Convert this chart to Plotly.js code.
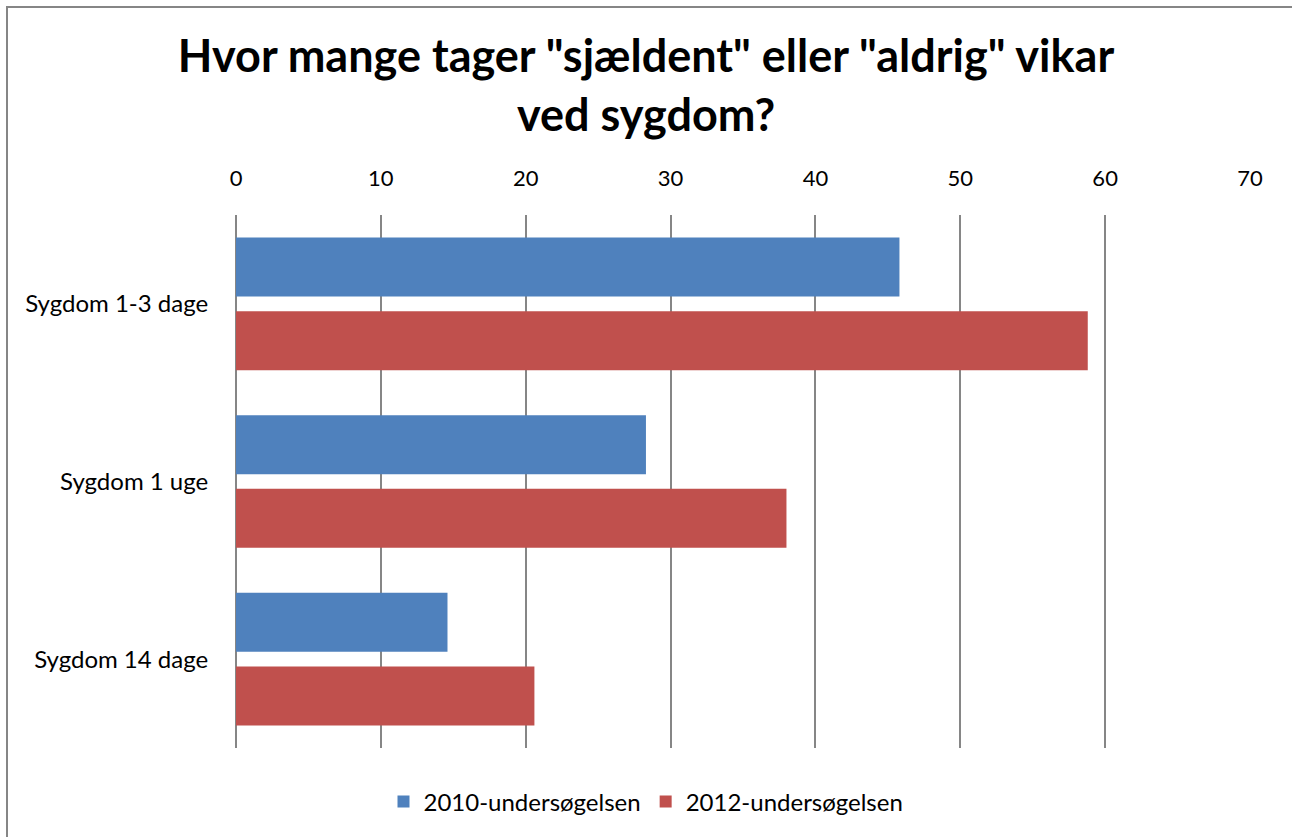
<!DOCTYPE html>
<html>
<head>
<meta charset="utf-8">
<script src="https://cdn.plot.ly/plotly-3.0.1.min.js"></script>
<style>
  html, body { margin: 0; padding: 0; background: #ffffff; overflow: hidden; }
  #frame { position: absolute; left: 6px; top: 6px; width: 1400px; height: 1000px; border: 2px solid #868686; box-sizing: border-box; }
  #chart { position: absolute; left: 0; top: 0; width: 1292px; height: 837px; }
</style>
</head>
<body>
<div id="frame"></div>
<div id="chart"></div>
<script>
const categories = ["Sygdom 1-3 dage", "Sygdom 1 uge", "Sygdom 14 dage"];
const seriesNames = ["2010-undersøgelsen", "2012-undersøgelsen"];
const values2010 = [45.8, 28.3, 14.6];
const values2012 = [58.8, 38.0, 20.6];
const tickValues = [0, 10, 20, 30, 40, 50, 60, 70];
const tickLabels = ["0", "10", "20", "30", "40", "50", "60", "70"];

const FONT = "Lato, 'Open Sans', sans-serif";

const traces = [
  { type: "bar", orientation: "h", name: seriesNames[0], y: categories, x: values2010,
    marker: { color: "#4F81BD", line: { width: 0 } }, hoverinfo: "x+name" },
  { type: "bar", orientation: "h", name: seriesNames[1], y: categories, x: values2012,
    marker: { color: "#C0504D", line: { width: 0 } }, hoverinfo: "x+name" }
];

const layout = {
  width: 1292, height: 837,
  paper_bgcolor: "rgba(0,0,0,0)", plot_bgcolor: "rgba(0,0,0,0)",
  margin: { l: 236, r: 42, t: 215, b: 89 },
  font: { family: FONT, color: "#000000", size: 20 },
  title: {
    text: "Hvor mange tager \"sjældent\" eller \"aldrig\" vikar<br>ved sygdom?",
    font: { family: FONT, size: 45, color: "#000000", weight: "bold" },
    x: 0.5, xref: "container", xanchor: "center",
    y: 1 - 72 / 837, yref: "container", yanchor: "top"
  },
  barmode: "group",
  bargap: 0.17,
  bargroupgap: 0.2,
  xaxis: {
    side: "top", range: [0, 70], tickvals: tickValues, ticktext: tickLabels,
    showgrid: true, gridcolor: "#868686", gridwidth: 2,
    zeroline: true, zerolinecolor: "#868686", zerolinewidth: 2,
    showline: false, ticks: "outside", ticklen: 19, tickcolor: "rgba(0,0,0,0)",
    tickfont: { family: FONT, size: 22, color: "#000000" }, fixedrange: true
  },
  yaxis: {
    autorange: "reversed", showgrid: false, zeroline: false, showline: false,
    ticks: "outside", ticklen: 22, tickcolor: "rgba(0,0,0,0)",
    tickfont: { family: FONT, size: 24, color: "#000000" }, fixedrange: true
  },
  showlegend: true,
  legend: {
    orientation: "h", xref: "container", yref: "container",
    x: 0.5, xanchor: "center", y: 1 - 802 / 837, yanchor: "middle",
    font: { family: FONT, size: 24, color: "#000000" },
    itemwidth: 30, traceorder: "normal", bgcolor: "rgba(0,0,0,0)"
  }
};

Plotly.newPlot("chart", traces, layout, { displayModeBar: false, staticPlot: true });
</script>
</body>
</html>
